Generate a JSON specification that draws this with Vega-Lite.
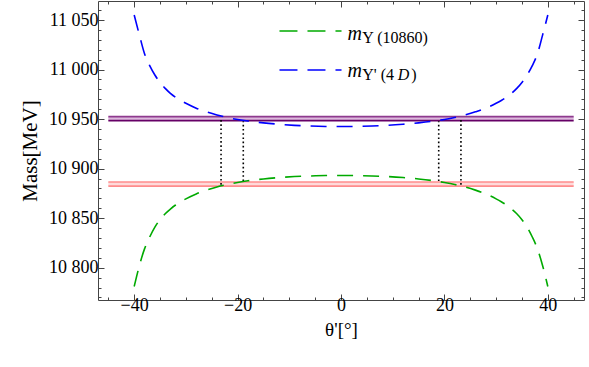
{
  "$schema": "https://vega.github.io/schema/vega-lite/v6.json",
  "width": 486,
  "height": 299,
  "autosize": "none",
  "padding": {"left": 98, "top": 1, "right": 5, "bottom": 67},
  "background": "white",
  "config": {
    "view": {"stroke": "#444", "strokeWidth": 1},
    "axis": {
      "domain": false, "grid": false,
      "labelFont": "Liberation Serif", "labelFontSize": 18, "labelColor": "black",
      "titleFont": "Liberation Serif", "titleColor": "black", "titleFontWeight": "normal",
      "tickColor": "#444", "tickWidth": 1
    },
    "text": {"font": "Liberation Serif"}
  },
  "datasets": {
    "curves": [
      {"theta": -40, "mass": 11055, "s": "blue"}, {"theta": -39, "mass": 11035, "s": "blue"},
      {"theta": -38, "mass": 11016, "s": "blue"}, {"theta": -37, "mass": 11004, "s": "blue"},
      {"theta": -36, "mass": 10994.5, "s": "blue"}, {"theta": -35, "mass": 10987, "s": "blue"},
      {"theta": -34, "mass": 10981, "s": "blue"}, {"theta": -33, "mass": 10976, "s": "blue"},
      {"theta": -32, "mass": 10972, "s": "blue"}, {"theta": -31, "mass": 10968.8, "s": "blue"},
      {"theta": -30, "mass": 10966, "s": "blue"}, {"theta": -28, "mass": 10961, "s": "blue"},
      {"theta": -26, "mass": 10957.3, "s": "blue"}, {"theta": -24, "mass": 10954.2, "s": "blue"},
      {"theta": -22, "mass": 10951.6, "s": "blue"}, {"theta": -20, "mass": 10949.6, "s": "blue"},
      {"theta": -18, "mass": 10948, "s": "blue"}, {"theta": -15, "mass": 10946.2, "s": "blue"},
      {"theta": -12, "mass": 10944.8, "s": "blue"}, {"theta": -9, "mass": 10943.7, "s": "blue"},
      {"theta": -6, "mass": 10943, "s": "blue"}, {"theta": -3, "mass": 10942.6, "s": "blue"},
      {"theta": 0, "mass": 10942.5, "s": "blue"}, {"theta": 3, "mass": 10942.6, "s": "blue"},
      {"theta": 6, "mass": 10943, "s": "blue"}, {"theta": 9, "mass": 10943.7, "s": "blue"},
      {"theta": 12, "mass": 10944.8, "s": "blue"}, {"theta": 15, "mass": 10946.2, "s": "blue"},
      {"theta": 18, "mass": 10948, "s": "blue"}, {"theta": 20, "mass": 10949.6, "s": "blue"},
      {"theta": 22, "mass": 10951.6, "s": "blue"}, {"theta": 24, "mass": 10954.2, "s": "blue"},
      {"theta": 26, "mass": 10957.3, "s": "blue"}, {"theta": 28, "mass": 10961, "s": "blue"},
      {"theta": 30, "mass": 10966, "s": "blue"}, {"theta": 31, "mass": 10968.8, "s": "blue"},
      {"theta": 32, "mass": 10972, "s": "blue"}, {"theta": 33, "mass": 10976, "s": "blue"},
      {"theta": 34, "mass": 10981, "s": "blue"}, {"theta": 35, "mass": 10987, "s": "blue"},
      {"theta": 36, "mass": 10994.5, "s": "blue"}, {"theta": 37, "mass": 11004, "s": "blue"},
      {"theta": 38, "mass": 11016, "s": "blue"}, {"theta": 39, "mass": 11035, "s": "blue"},
      {"theta": 40, "mass": 11055, "s": "blue"},
      {"theta": -40, "mass": 10781, "s": "green"}, {"theta": -39, "mass": 10802, "s": "green"},
      {"theta": -38, "mass": 10819, "s": "green"}, {"theta": -37, "mass": 10831, "s": "green"},
      {"theta": -36, "mass": 10841, "s": "green"}, {"theta": -35, "mass": 10848.5, "s": "green"},
      {"theta": -34, "mass": 10854.5, "s": "green"}, {"theta": -33, "mass": 10859.2, "s": "green"},
      {"theta": -32, "mass": 10863.3, "s": "green"}, {"theta": -31, "mass": 10866.6, "s": "green"},
      {"theta": -30, "mass": 10869.5, "s": "green"}, {"theta": -28, "mass": 10874.5, "s": "green"},
      {"theta": -26, "mass": 10878.3, "s": "green"}, {"theta": -24, "mass": 10881.5, "s": "green"},
      {"theta": -22, "mass": 10884, "s": "green"}, {"theta": -20, "mass": 10886, "s": "green"},
      {"theta": -18, "mass": 10887.7, "s": "green"}, {"theta": -15, "mass": 10889.6, "s": "green"},
      {"theta": -12, "mass": 10891, "s": "green"}, {"theta": -9, "mass": 10892, "s": "green"},
      {"theta": -6, "mass": 10892.6, "s": "green"}, {"theta": -3, "mass": 10893, "s": "green"},
      {"theta": 0, "mass": 10893.1, "s": "green"}, {"theta": 3, "mass": 10893, "s": "green"},
      {"theta": 6, "mass": 10892.6, "s": "green"}, {"theta": 9, "mass": 10892, "s": "green"},
      {"theta": 12, "mass": 10891, "s": "green"}, {"theta": 15, "mass": 10889.6, "s": "green"},
      {"theta": 18, "mass": 10887.7, "s": "green"}, {"theta": 20, "mass": 10886, "s": "green"},
      {"theta": 22, "mass": 10884, "s": "green"}, {"theta": 24, "mass": 10881.5, "s": "green"},
      {"theta": 26, "mass": 10878.3, "s": "green"}, {"theta": 28, "mass": 10874.5, "s": "green"},
      {"theta": 30, "mass": 10869.5, "s": "green"}, {"theta": 31, "mass": 10866.6, "s": "green"},
      {"theta": 32, "mass": 10863.3, "s": "green"}, {"theta": 33, "mass": 10859.2, "s": "green"},
      {"theta": 34, "mass": 10854.5, "s": "green"}, {"theta": 35, "mass": 10848.5, "s": "green"},
      {"theta": 36, "mass": 10841, "s": "green"}, {"theta": 37, "mass": 10831, "s": "green"},
      {"theta": 38, "mass": 10819, "s": "green"}, {"theta": 39, "mass": 10802, "s": "green"},
      {"theta": 40, "mass": 10781, "s": "green"}
    ],
    "bands": [
      {"x1": -45, "x2": 45, "lo": 10948.5, "hi": 10952.5, "band": "purple"},
      {"x1": -45, "x2": 45, "lo": 10882.3, "hi": 10886.5, "band": "pink"}
    ],
    "edges": [
      {"x1": -45, "x2": 45, "y": 10952.5, "edge": "ptop"},
      {"x1": -45, "x2": 45, "y": 10948.5, "edge": "pbot"},
      {"x1": -45, "x2": 45, "y": 10886.5, "edge": "pink"},
      {"x1": -45, "x2": 45, "y": 10882.3, "edge": "pink"}
    ],
    "dots": [
      {"x": -23.2, "lo": 10883.8, "hi": 10951.5},
      {"x": -18.9, "lo": 10887.5, "hi": 10947.8},
      {"x": 18.9, "lo": 10887.5, "hi": 10947.8},
      {"x": 23.2, "lo": 10883.8, "hi": 10951.5}
    ],
    "legendLines": [
      {"x1": -11.9, "x2": 0.1, "y": 11038.9, "s": "green"},
      {"x1": -11.9, "x2": 0.1, "y": 10999.5, "s": "blue"}
    ],
    "labels": [
      {"x": 1.26, "y": 11030, "text": "m", "kind": "m"},
      {"x": 4.1, "y": 11026.5, "text": "Υ (10860)", "kind": "sub"},
      {"x": 1.26, "y": 10992.5, "text": "m", "kind": "m"},
      {"x": 4.1, "y": 10989, "text": "Υ' (4", "kind": "sub"},
      {"x": 11.0, "y": 10989, "text": "D", "kind": "subit"},
      {"x": 13.6, "y": 10989, "text": ")", "kind": "sub"}
    ]
  },
  "layer": [
    {
      "data": {"name": "bands"},
      "transform": [{"filter": "datum.band === 'pink'"}],
      "mark": {"type": "rect", "fill": "#FFDADA"},
      "encoding": {
        "x": {"field": "x1", "type": "quantitative", "scale": {"domain": [-47, 47], "nice": false, "zero": false}, "axis": null},
        "x2": {"field": "x2"},
        "y": {"field": "lo", "type": "quantitative", "scale": {"domain": [10767.4, 11069.2], "nice": false, "zero": false}, "axis": null},
        "y2": {"field": "hi"}
      }
    },
    {
      "data": {"name": "bands"},
      "transform": [{"filter": "datum.band === 'purple'"}],
      "mark": {"type": "rect", "fill": "#DDB8DD"},
      "encoding": {
        "x": {"field": "x1", "type": "quantitative", "scale": {"domain": [-47, 47], "nice": false, "zero": false}, "axis": null},
        "x2": {"field": "x2"},
        "y": {"field": "lo", "type": "quantitative", "scale": {"domain": [10767.4, 11069.2], "nice": false, "zero": false}, "axis": null},
        "y2": {"field": "hi"}
      }
    },
    {
      "data": {"name": "edges"},
      "transform": [{"filter": "datum.edge === 'pink'"}],
      "mark": {"type": "rule", "color": "#FF8C8C", "strokeWidth": 1.6},
      "encoding": {
        "x": {"field": "x1", "type": "quantitative", "axis": null},
        "x2": {"field": "x2"},
        "y": {"field": "y", "type": "quantitative", "axis": null}
      }
    },
    {
      "data": {"name": "edges"},
      "transform": [{"filter": "datum.edge === 'ptop'"}],
      "mark": {"type": "rule", "color": "#8E3A8E", "strokeWidth": 1.6},
      "encoding": {
        "x": {"field": "x1", "type": "quantitative", "axis": null},
        "x2": {"field": "x2"},
        "y": {"field": "y", "type": "quantitative", "axis": null}
      }
    },
    {
      "data": {"name": "edges"},
      "transform": [{"filter": "datum.edge === 'pbot'"}],
      "mark": {"type": "rule", "color": "#660066", "strokeWidth": 1.6},
      "encoding": {
        "x": {"field": "x1", "type": "quantitative", "axis": null},
        "x2": {"field": "x2"},
        "y": {"field": "y", "type": "quantitative", "axis": null}
      }
    },
    {
      "data": {"name": "dots"},
      "mark": {"type": "rule", "color": "black", "strokeWidth": 1.6, "strokeDash": [1.6, 2.6]},
      "encoding": {
        "x": {"field": "x", "type": "quantitative", "axis": null},
        "y": {"field": "lo", "type": "quantitative", "axis": null},
        "y2": {"field": "hi"}
      }
    },
    {
      "data": {"name": "curves"},
      "transform": [{"filter": "datum.s === 'green'"}],
      "mark": {"type": "line", "color": "#00AA00", "strokeWidth": 1.6, "strokeDash": [16, 10], "interpolate": "monotone"},
      "encoding": {
        "x": {
          "field": "theta", "type": "quantitative",
          "scale": {"domain": [-47, 47], "nice": false, "zero": false},
          "axis": {
            "orient": "bottom",
            "values": [-45, -40, -35, -30, -25, -20, -15, -10, -5, 0, 5, 10, 15, 20, 25, 30, 35, 40, 45],
            "labelExpr": "datum.value % 20 === 0 ? datum.label : ''",
            "labelFont": "Liberation Serif", "labelFontSize": 18,
            "tickSize": {"condition": {"test": "datum.value % 20 === 0", "value": -6}, "value": -3},
            "labelPadding": 2,
            "title": "θ'[°]", "titleFont": "Liberation Serif", "titleFontSize": 19, "titlePadding": 6
          }
        },
        "y": {
          "field": "mass", "type": "quantitative",
          "scale": {"domain": [10767.4, 11069.2], "nice": false, "zero": false},
          "axis": {
            "orient": "left",
            "values": [10770, 10780, 10790, 10800, 10810, 10820, 10830, 10840, 10850, 10860, 10870, 10880, 10890, 10900, 10910, 10920, 10930, 10940, 10950, 10960, 10970, 10980, 10990, 11000, 11010, 11020, 11030, 11040, 11050, 11060],
            "labelExpr": "datum.value % 50 === 0 ? replace(format(datum.value, ','), ',', ' ') : ''",
            "labelFont": "Liberation Serif", "labelFontSize": 18,
            "tickSize": {"condition": {"test": "datum.value % 50 === 0", "value": -6}, "value": -3},
            "labelPadding": 6,
            "title": "Mass[MeV]", "titleFont": "Liberation Serif", "titleFontSize": 21, "titlePadding": 8
          }
        }
      }
    },
    {
      "data": {"name": "curves"},
      "transform": [{"filter": "datum.s === 'blue'"}],
      "mark": {"type": "line", "color": "#0000FF", "strokeWidth": 1.6, "strokeDash": [16, 10], "interpolate": "monotone"},
      "encoding": {
        "x": {
          "field": "theta", "type": "quantitative",
          "scale": {"domain": [-47, 47], "nice": false, "zero": false},
          "axis": {
            "orient": "top", "labels": false, "title": null,
            "values": [-45, -40, -35, -30, -25, -20, -15, -10, -5, 0, 5, 10, 15, 20, 25, 30, 35, 40, 45],
            "tickSize": {"condition": {"test": "datum.value % 20 === 0", "value": -6}, "value": -3}
          }
        },
        "y": {
          "field": "mass", "type": "quantitative",
          "scale": {"domain": [10767.4, 11069.2], "nice": false, "zero": false},
          "axis": {
            "orient": "right", "labels": false, "title": null,
            "values": [10770, 10780, 10790, 10800, 10810, 10820, 10830, 10840, 10850, 10860, 10870, 10880, 10890, 10900, 10910, 10920, 10930, 10940, 10950, 10960, 10970, 10980, 10990, 11000, 11010, 11020, 11030, 11040, 11050, 11060],
            "tickSize": {"condition": {"test": "datum.value % 50 === 0", "value": -6}, "value": -3}
          }
        }
      }
    },
    {
      "data": {"name": "legendLines"},
      "transform": [{"filter": "datum.s === 'green'"}],
      "mark": {"type": "rule", "color": "#00AA00", "strokeWidth": 1.6, "strokeDash": [18, 10]},
      "encoding": {
        "x": {"field": "x1", "type": "quantitative", "axis": null},
        "x2": {"field": "x2"},
        "y": {"field": "y", "type": "quantitative", "axis": null}
      }
    },
    {
      "data": {"name": "legendLines"},
      "transform": [{"filter": "datum.s === 'blue'"}],
      "mark": {"type": "rule", "color": "#0000FF", "strokeWidth": 1.6, "strokeDash": [18, 10]},
      "encoding": {
        "x": {"field": "x1", "type": "quantitative", "axis": null},
        "x2": {"field": "x2"},
        "y": {"field": "y", "type": "quantitative", "axis": null}
      }
    },
    {
      "data": {"name": "labels"},
      "transform": [{"filter": "datum.kind === 'm'"}],
      "mark": {"type": "text", "font": "Liberation Serif", "fontSize": 20, "fontStyle": "italic", "align": "left", "baseline": "alphabetic", "color": "black"},
      "encoding": {
        "x": {"field": "x", "type": "quantitative", "axis": null},
        "y": {"field": "y", "type": "quantitative", "axis": null},
        "text": {"field": "text"}
      }
    },
    {
      "data": {"name": "labels"},
      "transform": [{"filter": "datum.kind === 'sub'"}],
      "mark": {"type": "text", "font": "Liberation Serif", "fontSize": 16, "align": "left", "baseline": "alphabetic", "color": "black"},
      "encoding": {
        "x": {"field": "x", "type": "quantitative", "axis": null},
        "y": {"field": "y", "type": "quantitative", "axis": null},
        "text": {"field": "text"}
      }
    },
    {
      "data": {"name": "labels"},
      "transform": [{"filter": "datum.kind === 'subit'"}],
      "mark": {"type": "text", "font": "Liberation Serif", "fontSize": 16, "fontStyle": "italic", "align": "left", "baseline": "alphabetic", "color": "black"},
      "encoding": {
        "x": {"field": "x", "type": "quantitative", "axis": null},
        "y": {"field": "y", "type": "quantitative", "axis": null},
        "text": {"field": "text"}
      }
    }
  ],
  "resolve": {"axis": {"x": "independent", "y": "independent"}}
}
